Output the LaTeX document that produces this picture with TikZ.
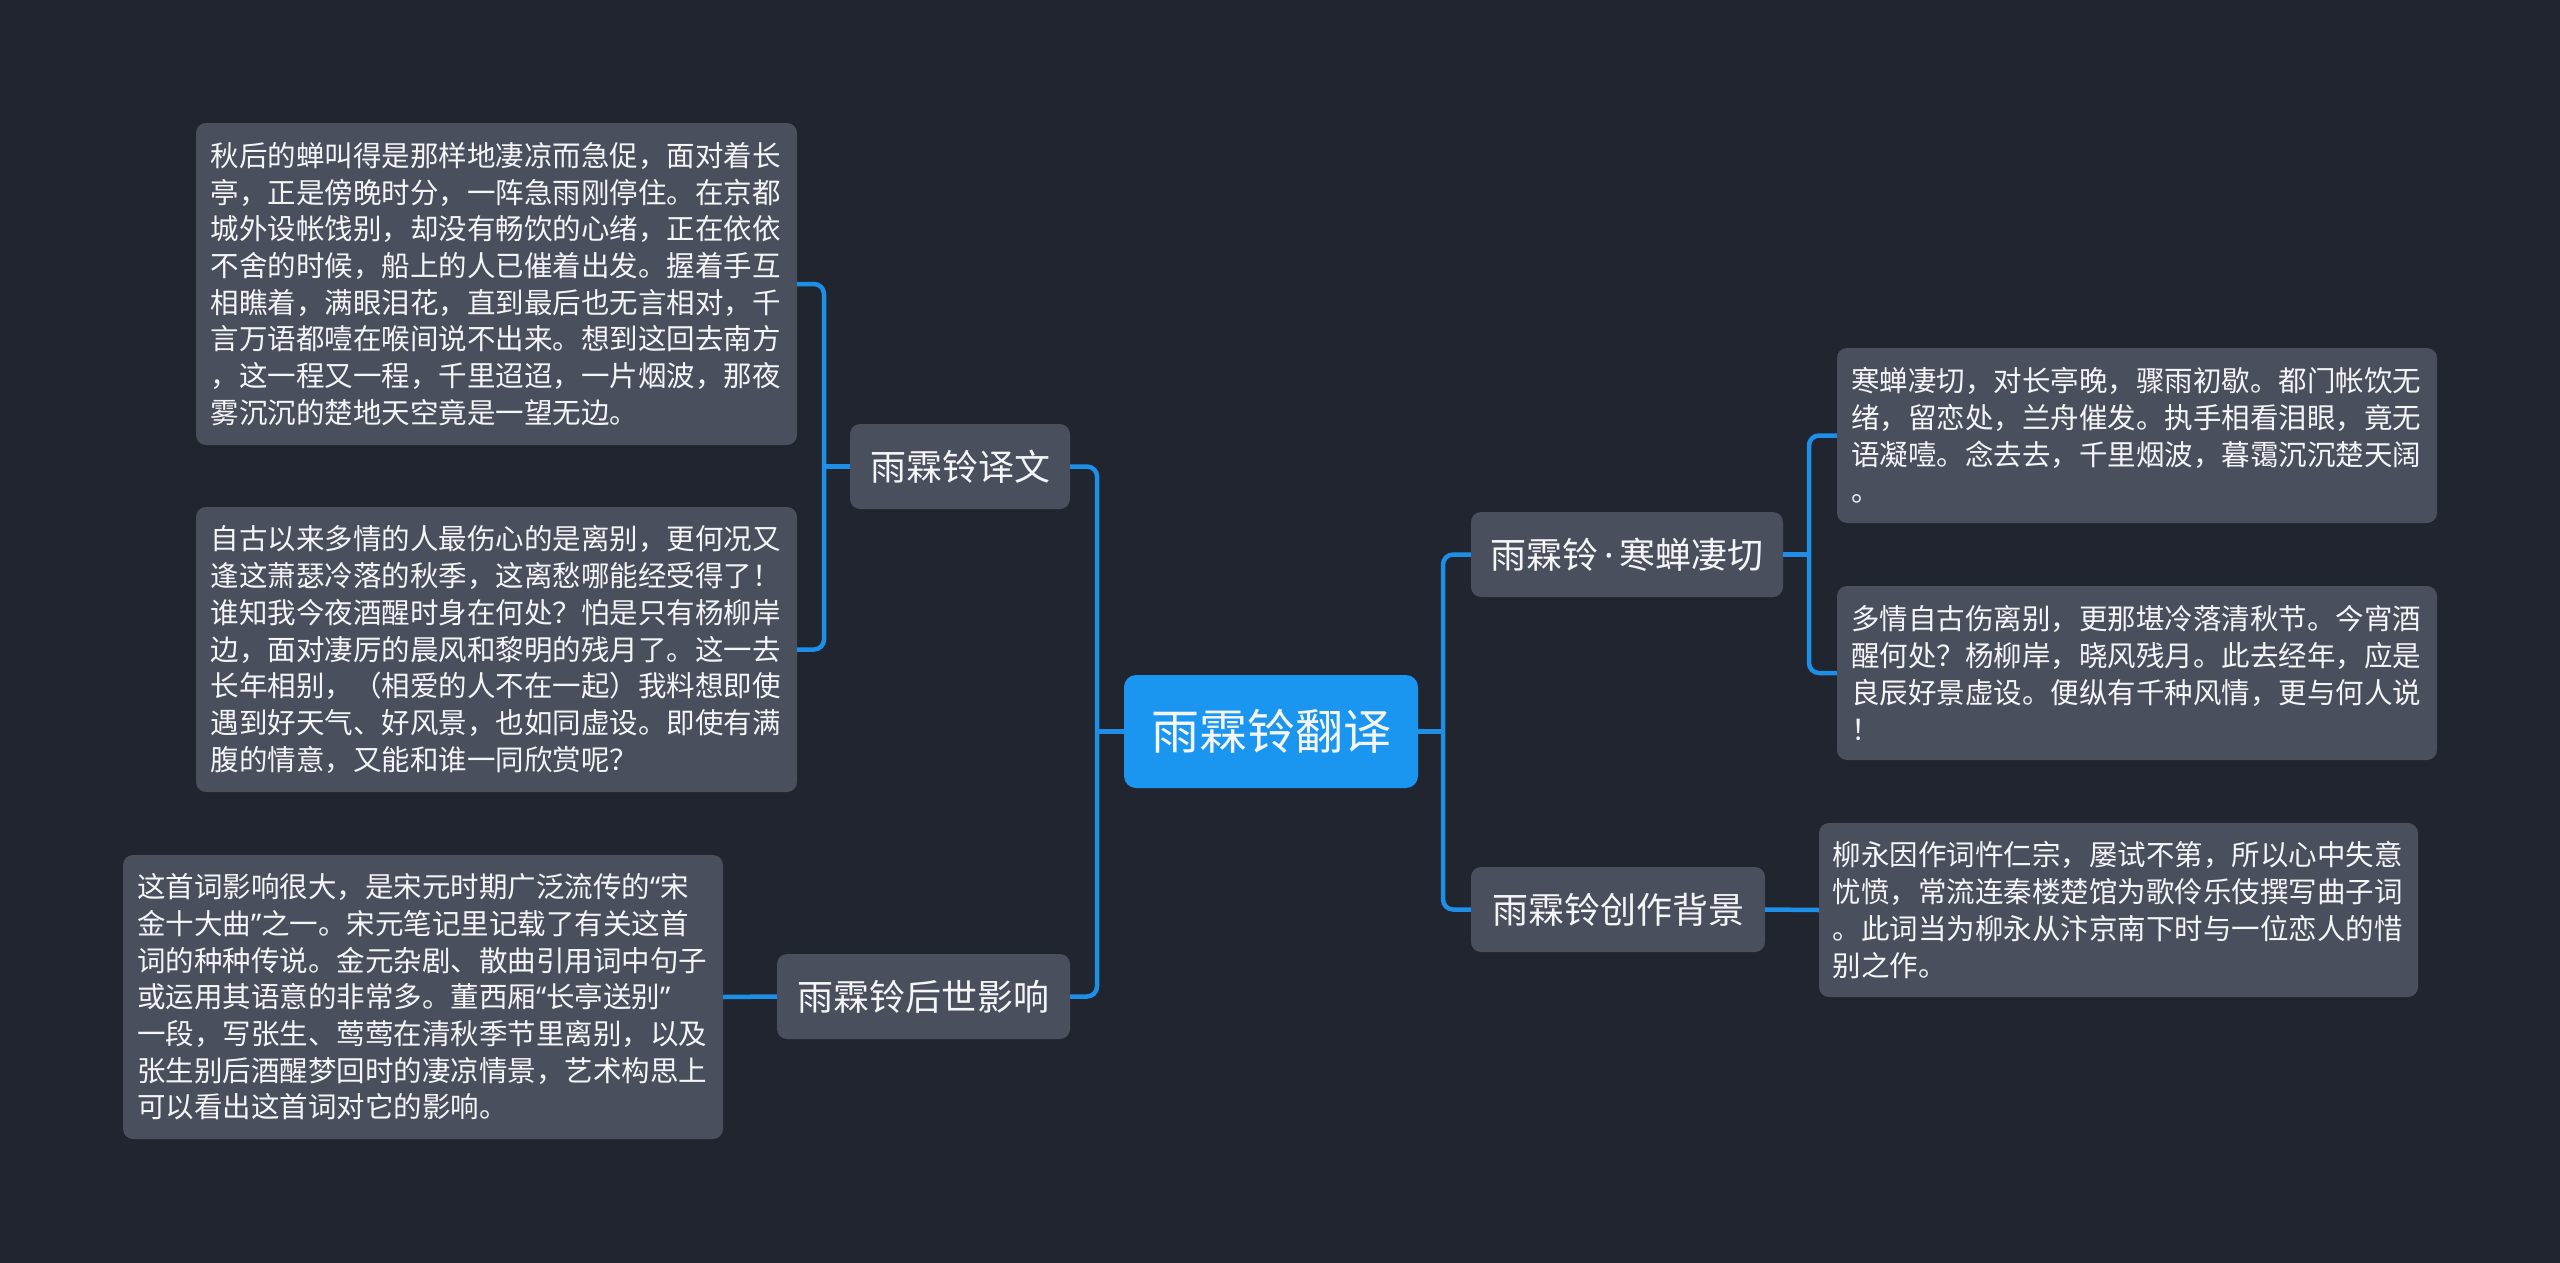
\documentclass[tikz,border=0pt]{standalone}
\usepackage{fontspec}
\newfontfamily\cjk{Noto Sans CJK SC}
\newfontfamily\latn{Noto Sans}
\newcommand{\myLq}{{\latn “}}
\newcommand{\myRq}{{\latn ”}}
\definecolor{bg}{HTML}{212530}
\definecolor{boxgray}{HTML}{494F5D}
\definecolor{rootblue}{HTML}{1A96F0}
\definecolor{lineblue}{HTML}{1E8FE6}
\definecolor{txt}{HTML}{F4F5F7}
\begin{document}
\begin{tikzpicture}[x=1pt,y=-1pt,
  rootbox/.style={fill=rootblue, rounded corners=12pt, minimum width=294pt, minimum height=113pt,
    inner sep=0pt, text=txt, font=\cjk\fontsize{48}{58}\selectfont},
  midbox/.style={fill=boxgray, rounded corners=10pt, minimum height=85pt,
    inner sep=0pt, text=txt, font=\cjk\fontsize{36}{44}\selectfont},
  leafbox/.style={fill=boxgray, rounded corners=10pt, inner sep=0pt, text width=572pt, align=left,
    text=txt, font=\cjk\fontsize{28.5}{36.7}\selectfont},
  conn/.style={draw=lineblue, line width=4.5pt, rounded corners=10pt}]
\fill[bg] (0,0) rectangle (2560,1263);
\useasboundingbox (0,0) rectangle (2560,1263);

% root
\node[rootbox] (root) at (1271,731.5) {雨霖铃翻译};

% level 1
\node[midbox, minimum width=220pt] (yiwen) at (960,466.5) {雨霖铃译文};
\node[midbox, minimum width=293pt] (houshi) at (923.5,996.5) {雨霖铃后世影响};
\node[midbox, minimum width=312pt] (hanchan) at (1627,554.5) {雨霖铃{\latn\,·\,}寒蝉凄切};
\node[midbox, minimum width=294pt] (beijing) at (1618,909.5) {雨霖铃创作背景};

% leaves left
\node[leafbox, minimum width=601pt, minimum height=322pt] (t1) at (496.5,284) {秋后的蝉叫得是那样地凄凉而急促，面对着长\\亭，正是傍晚时分，一阵急雨刚停住。在京都\\城外设帐饯别，却没有畅饮的心绪，正在依依\\不舍的时候，船上的人已催着出发。握着手互\\相瞧着，满眼泪花，直到最后也无言相对，千\\言万语都噎在喉间说不出来。想到这回去南方\\，这一程又一程，千里迢迢，一片烟波，那夜\\雾沉沉的楚地天空竟是一望无边。};
\node[leafbox, minimum width=601pt, minimum height=285pt] (t2) at (496.5,649.5) {自古以来多情的人最伤心的是离别，更何况又\\逢这萧瑟冷落的秋季，这离愁哪能经受得了！\\谁知我今夜酒醒时身在何处？怕是只有杨柳岸\\边，面对凄厉的晨风和黎明的残月了。这一去\\长年相别，（相爱的人不在一起）我料想即使\\遇到好天气、好风景，也如同虚设。即使有满\\腹的情意，又能和谁一同欣赏呢？};
\node[leafbox, minimum width=600pt, minimum height=284pt] (t3) at (423,997) {这首词影响很大，是宋元时期广泛流传的\myLq 宋\\金十大曲\myRq 之一。宋元笔记里记载了有关这首\\词的种种传说。金元杂剧、散曲引用词中句子\\或运用其语意的非常多。董西厢\myLq 长亭送别\myRq\\一段，写张生、莺莺在清秋季节里离别，以及\\张生别后酒醒梦回时的凄凉情景，艺术构思上\\可以看出这首词对它的影响。};

% leaves right
\node[leafbox, minimum width=600pt, minimum height=175pt] (r1) at (2137,435.5) {寒蝉凄切，对长亭晚，骤雨初歇。都门帐饮无\\绪，留恋处，兰舟催发。执手相看泪眼，竟无\\语凝噎。念去去，千里烟波，暮霭沉沉楚天阔\\。};
\node[leafbox, minimum width=600pt, minimum height=174pt] (r2) at (2137,673) {多情自古伤离别，更那堪冷落清秋节。今宵酒\\醒何处？杨柳岸，晓风残月。此去经年，应是\\良辰好景虚设。便纵有千种风情，更与何人说\\！};
\node[leafbox, minimum width=599pt, minimum height=174pt] (r3) at (2118.5,910) {柳永因作词忤仁宗，屡试不第，所以心中失意\\忧愤，常流连秦楼楚馆为歌伶乐伎撰写曲子词\\。此词当为柳永从汴京南下时与一位恋人的惜\\别之作。};

% bus coordinates
\coordinate (lb) at (1097,731.5);
\coordinate (lb2) at (824,466.5);
\coordinate (rb) at (1443,731.5);
\coordinate (rb2) at (1809,554.5);

% connectors
\draw[conn] (root.west) -- (lb);
\draw[conn] (yiwen.east) -| (lb) |- (houshi.east);
\draw[conn] (yiwen.west) -- (lb2);
\draw[conn] (t1.east) -| (lb2) |- (t2.east);
\draw[conn] (houshi.west) -- (t3.east);
\draw[conn] (root.east) -- (rb);
\draw[conn] (hanchan.west) -| (rb) |- (beijing.west);
\draw[conn] (hanchan.east) -- (rb2);
\draw[conn] (r1.west) -| (rb2) |- (r2.west);
\draw[conn] (beijing.east) -- (r3.west);
\end{tikzpicture}
\end{document}
